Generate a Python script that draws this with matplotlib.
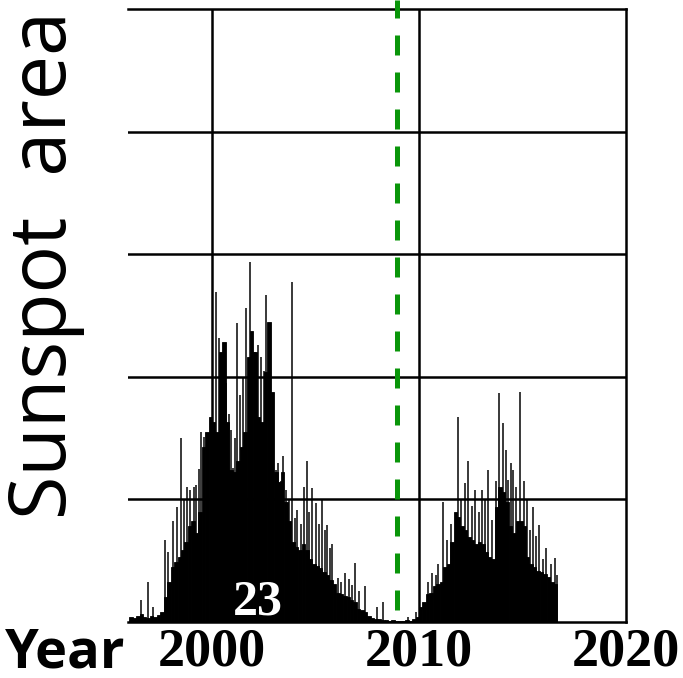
import numpy as np
import matplotlib
matplotlib.use("Agg")
import matplotlib.pyplot as plt

# bimonthly sunspot area (the solid body of the histogram), starting 1996.0
area_start = 1996.0
area_step = 1.0 / 6
area_body = [
    40, 30, 50, 65, 40, 30,                 # 1996
    50, 40, 60, 80, 200, 330,               # 1997
    450, 490, 530, 590, 650, 780,           # 1998
    820, 730, 900, 1430, 1550, 1670,        # 1999
    1630, 1550, 2200, 2280, 1630, 1240,     # 2000
    1220, 1310, 1430, 1550, 2160, 2370,     # 2001
    2200, 1670, 1630, 2040, 2450, 1880,     # 2002
    1220, 1140, 1220, 980, 820, 650,        # 2003
    610, 590, 640, 590, 510, 470,           # 2004
    460, 440, 410, 380, 340, 310,           # 2005
    240, 230, 210, 200, 180, 160,           # 2006
    110, 100, 80, 50, 30, 25,               # 2007
    25, 15, 15, 10, 15, 10,                 # 2008
    10, 10, 15, 10, 25, 40,                 # 2009
    120, 160, 230, 240, 290, 310,           # 2010
    330, 450, 470, 650, 900, 860,           # 2011
    780, 750, 690, 670, 640, 650,           # 2012
    640, 570, 530, 510, 940, 1100,          # 2013
    1060, 980, 780, 730, 820, 820,          # 2014
    780, 530, 470, 450, 420, 410,           # 2015
    390, 370, 330, 310,                     # 2016
]

# daily peaks sticking out of the body
spike_year = [
    1996.57, 1996.91, 1997.15, 1997.73, 1997.87, 1998.10, 1998.31, 1998.50,
    1998.65, 1998.79, 1998.94, 1999.13, 1999.23, 1999.35, 1999.47, 1999.61,
    2000.19, 2000.34, 2000.48, 2000.68, 2000.80, 2000.92, 2001.01, 2001.10,
    2001.21, 2001.35, 2001.50, 2001.64, 2001.84, 2002.08, 2002.22, 2002.37,
    2002.50, 2002.61, 2002.75, 2002.90, 2003.09, 2003.19, 2003.31, 2003.43,
    2003.57, 2003.70, 2003.86, 2004.00, 2004.11, 2004.30, 2004.45, 2004.59,
    2004.70, 2004.83, 2005.02, 2005.15, 2005.31, 2005.45, 2005.56, 2005.70,
    2005.80, 2006.09, 2006.25, 2006.43, 2006.60, 2006.75, 2006.91, 2007.10,
    2007.39, 2007.97, 2008.26, 2009.47, 2009.86,
    2010.45, 2010.63, 2010.80, 2010.92, 2011.16, 2011.35, 2011.55, 2011.88,
    2012.05, 2012.22, 2012.37, 2012.55, 2012.71, 2012.88, 2013.04, 2013.20,
    2013.33, 2013.53, 2013.70, 2013.86, 2014.06, 2014.18, 2014.30, 2014.42,
    2014.54, 2014.70, 2014.88, 2015.05, 2015.20, 2015.36, 2015.51, 2015.65,
    2015.80, 2015.99, 2016.15, 2016.38, 2016.55, 2016.67,
]
spike_area = [
    180, 330, 120, 670, 570, 820, 940, 1500,
    1000, 1100, 1080, 1100, 1120, 1250, 1550, 1510,
    2690, 2320, 2180, 1950, 1700, 1570, 1260, 1500,
    2440, 1850, 2000, 2560, 2940, 2200, 2260, 2160,
    2050, 2670, 1850, 1500, 1240, 1300, 1150, 1350,
    1080, 1000, 2770, 850, 910, 800, 1100, 1310,
    900, 1090, 970, 800, 1000, 750, 790, 600,
    640, 360, 330, 400, 350, 300, 480, 250,
    290, 120, 160, 40, 80,
    330, 400, 380, 470, 980, 670, 800, 1670,
    1000, 1130, 1310, 950, 1080, 900, 1080, 1000,
    1240, 830, 1150, 1870, 1620, 1400, 1160, 1300,
    1240, 1100, 1880, 1150, 1000, 750, 940, 700,
    790, 510, 600, 470, 520, 380,
]

solar_min = 2008.94
xticks = [2000, 2010, 2020]

fig = plt.figure(figsize=(6.83, 6.78), dpi=100)
ax = fig.add_axes([128 / 683, 1 - 622 / 678, 498 / 683, 613 / 678])

t = area_start + area_step * (np.arange(len(area_body)) + 0.5)
ax.vlines(spike_year, 0, spike_area, color='#2a2a2a', linewidth=1.3, zorder=1.5)
ax.bar(t, area_body, width=area_step, color='black', edgecolor='black', linewidth=0.6, zorder=2)

ax.set_xlim(1995.94, 2020)
ax.set_ylim(0, 5000)
for y in [1000, 2000, 3000, 4000]:
    ax.axhline(y, color='black', linewidth=1.8, zorder=3)
ax.axvline(2000, color='black', linewidth=1.8, zorder=3)
ax.axvline(2010, color='black', linewidth=1.8, zorder=3)

for s in ['top', 'right', 'bottom']:
    ax.spines[s].set_linewidth(1.8)
    ax.spines[s].set_zorder(3)
ax.spines['left'].set_visible(False)

ax.set_xticks(xticks)
ax.set_xticklabels([str(x) for x in xticks], family='Liberation Serif', fontweight='bold', fontsize=39)
ax.tick_params(axis='x', length=0, pad=4)
ax.set_yticks([])

ax.plot([solar_min, solar_min], [100, 5075], color='#0a960a', linewidth=3.6,
        dashes=(4, 3.4), clip_on=False, zorder=4)

ax.text(2002.22, 155, '23', color='white', family='Liberation Serif', fontweight='bold',
        fontsize=36, ha='center', va='center', zorder=5)

fig.text(46 / 683, 1 - 265 / 678, 'Sunspot  area', rotation=90, family='Open Sans',
         fontsize=57, ha='center', va='center')
fig.text(5 / 683, 1 - 668 / 678, 'Year', family='Open Sans', fontweight='bold',
         fontsize=39, ha='left', va='baseline')
fig.text(0.996, 1 - 272 / 678, '(', color='red', fontsize=20, ha='left', va='center')

fig.savefig('out.png', dpi=100)
